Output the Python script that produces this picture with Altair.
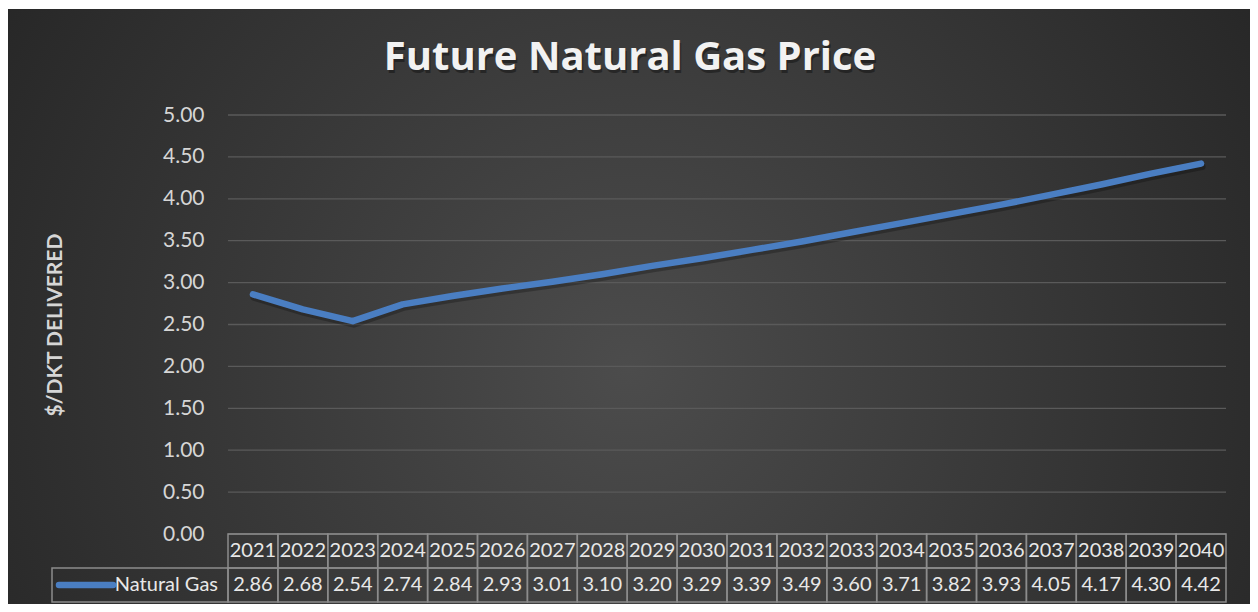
import altair as alt
import pandas as pd

TITLE = "Future Natural Gas Price"
Y_TITLE = "$/DKT DELIVERED"
SERIES = "Natural Gas"
YEARS = ["2021", "2022", "2023", "2024", "2025", "2026", "2027", "2028", "2029", "2030",
         "2031", "2032", "2033", "2034", "2035", "2036", "2037", "2038", "2039", "2040"]
PRICES = [2.86, 2.68, 2.54, 2.74, 2.84, 2.93, 3.01, 3.10, 3.20, 3.29,
          3.39, 3.49, 3.60, 3.71, 3.82, 3.93, 4.05, 4.17, 4.30, 4.42]
Y_TICKS = [0.0, 0.5, 1.0, 1.5, 2.0, 2.5, 3.0, 3.5, 4.0, 4.5, 5.0]

W, H = 998, 419
LINE_COLOR = "#4a7ec2"
TEXT_COLOR = "#e8e8e8"
BORDER = "#8c8c8c"
FONT = "Lato"

df = pd.DataFrame({"year": YEARS, "price": PRICES, "series": SERIES})
grid_df = pd.DataFrame({"price": Y_TICKS})
one = pd.DataFrame({"t": [TITLE], "series": [SERIES]})

x_band = alt.X("year:O", sort=YEARS,
               scale=alt.Scale(type="band", paddingInner=0, paddingOuter=0),
               axis=None)
x_mid = alt.X("year:O", sort=YEARS, bandPosition=0.5, axis=None)

y_enc = alt.Y(
    "price:Q",
    scale=alt.Scale(domain=[0, 5], nice=False, zero=True),
    axis=alt.Axis(
        values=Y_TICKS, format=".2f", grid=False, domain=False, ticks=False,
        labelFont=FONT, labelFontSize=21, labelColor="#d6d6d6", labelPadding=24,
        title=Y_TITLE, titleFont=FONT, titleFontSize=21, titleFontWeight="bold",
        titleColor="#d6d6d6", titleAngle=270, titleX=-173, titleY=209.5,
        titleAlign="center", titleBaseline="middle", zindex=1,
    ),
)

bg = alt.Chart(one).mark_rect(
    fill={
        "gradient": "radial",
        "x1": 0.5, "y1": 0.55, "r1": 0,
        "x2": 0.5, "y2": 0.55, "r2": 0.7,
        "stops": [
            {"offset": 0, "color": "#4c4c4c"},
            {"offset": 1, "color": "#202020"},
        ],
    },
    strokeWidth=0,
).encode(x=alt.value(-220), x2=alt.value(1022), y=alt.value(-106), y2=alt.value(489))

title_shadow = alt.Chart(one).mark_text(
    font="Open Sans", fontSize=40, fontWeight="bold", color="#000000", opacity=0.35,
    align="center", baseline="alphabetic", dx=1.5, dy=2.5,
).encode(x=alt.value(402), y=alt.value(-45), text="t:N")
title = alt.Chart(one).mark_text(
    font="Open Sans", fontSize=40, fontWeight="bold", color="#f2f2f2",
    align="center", baseline="alphabetic",
).encode(x=alt.value(402), y=alt.value(-45), text="t:N")

grid = alt.Chart(grid_df).mark_rule(color="#5a5a5a", strokeWidth=1.3).encode(
    y=y_enc, x=alt.value(0), x2=alt.value(W)
)

line_shadow = alt.Chart(df).mark_line(
    color="#000000", opacity=0.25, strokeWidth=7, strokeCap="round", strokeJoin="round",
    yOffset=3, xOffset=1,
).encode(x=x_mid, y=y_enc)
line = alt.Chart(df).mark_line(
    color=LINE_COLOR, strokeWidth=6.5, strokeCap="round", strokeJoin="round"
).encode(x=x_mid, y=y_enc)

head_cells = alt.Chart(df).mark_rect(fillOpacity=0, stroke=BORDER, strokeWidth=1.5).encode(
    x=x_band, y=alt.value(419), y2=alt.value(453)
)
val_cells = alt.Chart(df).mark_rect(fillOpacity=0, stroke=BORDER, strokeWidth=1.5).encode(
    x=x_band, y=alt.value(453), y2=alt.value(487)
)
legend_cell = alt.Chart(one).mark_rect(fillOpacity=0, stroke=BORDER, strokeWidth=1.5).encode(
    x=alt.value(-176), x2=alt.value(0), y=alt.value(453), y2=alt.value(487)
)
legend_swatch = alt.Chart(one).mark_rule(
    color=LINE_COLOR, strokeWidth=6.5, strokeCap="round"
).encode(x=alt.value(-169), x2=alt.value(-115), y=alt.value(470))
legend_text = alt.Chart(one).mark_text(
    font=FONT, fontSize=20, color=TEXT_COLOR, align="right", baseline="middle"
).encode(x=alt.value(-10), y=alt.value(470), text="series:N")

head_text = alt.Chart(df).mark_text(
    font=FONT, fontSize=20, color=TEXT_COLOR, baseline="middle"
).encode(x=x_mid, y=alt.value(436), text="year:N")
val_text = alt.Chart(df).mark_text(
    font=FONT, fontSize=20, color=TEXT_COLOR, baseline="middle"
).encode(x=x_mid, y=alt.value(470), text=alt.Text("price:Q", format=".2f"))

chart = alt.layer(
    bg, title_shadow, title, grid, head_cells, val_cells, legend_cell,
    head_text, val_text, legend_swatch, legend_text, line_shadow, line,
).properties(
    width=W, height=H,
    padding={"left": 220, "top": 107, "right": 24, "bottom": 70},
    autosize=alt.AutoSizeParams(type="none"),
    background="white",
).configure_view(stroke=None)

chart.save("out.html", embed_options={"renderer": "svg", "actions": False})
